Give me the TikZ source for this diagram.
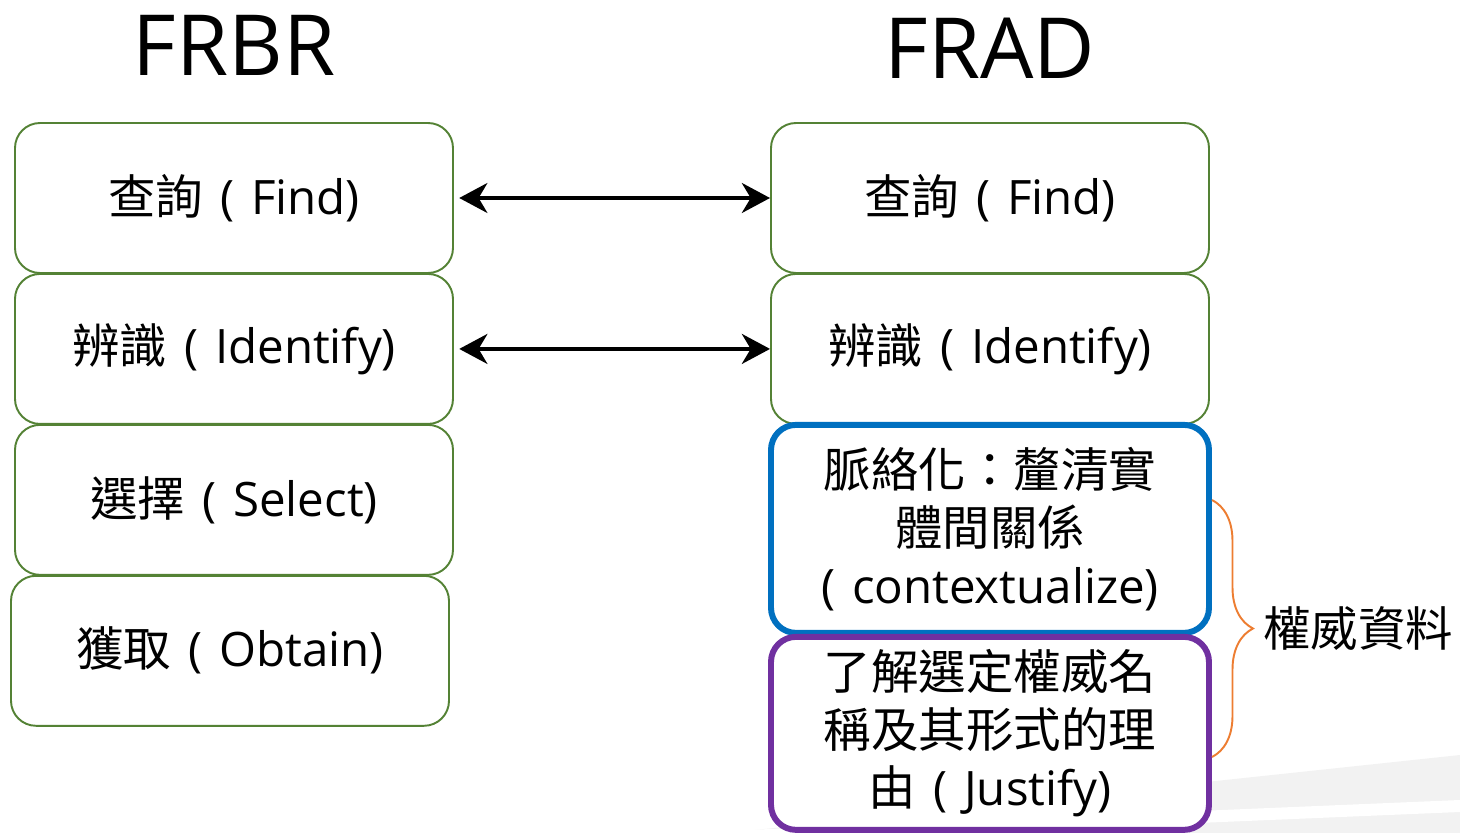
\documentclass[tikz,border=0pt]{standalone}
\usepackage{fontspec}
\setmainfont{Open Sans}
\newfontfamily\cjk{Noto Sans CJK TC}
\usepackage{tikz}
\usetikzlibrary{arrows.meta,positioning,decorations.pathreplacing}
\definecolor{taskgreen}{HTML}{548235}
\definecolor{ctxblue}{HTML}{0070C0}
\definecolor{justpurple}{HTML}{7030A0}
\definecolor{braceorange}{HTML}{ED7D31}
\newcommand\gap{\hspace{0.36em}}

\begin{document}
\begin{tikzpicture}[>={Stealth[length=16pt,width=17pt,inset=5pt]},
        task/.style={draw=taskgreen,line width=1.1pt,rounded corners=0.5cm,fill=white,
            minimum width=8.76cm,minimum height=3cm,inner sep=0pt,align=center,
            font=\fontsize{27}{33}\selectfont},
        title/.style={font=\fontsize{48}{52}\selectfont}]
        \useasboundingbox (0,0) rectangle (29.2,-16.66);
        % grey stripes in the corner
        \fill[black!5] (14.54,-16.66) -- (29.2,-15.1) -- (29.2,-16.66) -- cycle;
        \fill[white] (13.5,-16.66) -- (29.2,-16.0) -- (29.2,-16.24) -- (19.2,-16.66) -- cycle;
        \node[title] (frbr) at (4.68,-0.91) {FRBR};
        \node[title] (frad) at (19.8,-0.96) {FRAD};
        % FRBR
        \node[task] (find1) at (4.68,-3.96) {{\cjk 查詢}\gap(\gap Find)};
        \node[task,below=-0.02cm of find1] (ident1) {{\cjk 辨識}\gap(\gap Identify)};
        \node[task,below=-0.02cm of ident1] (select1) {{\cjk 選擇}\gap(\gap Select)};
        \node[task,below=-0.02cm of select1,xshift=-0.08cm] (obtain1) {{\cjk 獲取}\gap(\gap Obtain)};
        % FRAD
        \node[task] (find2) at (19.8,-3.96) {{\cjk 查詢}\gap(\gap Find)};
        \node[task,below=-0.02cm of find2] (ident2) {{\cjk 辨識}\gap(\gap Identify)};
        \node[task,below=-0.06cm of ident2,draw=ctxblue,line width=3.4pt,minimum height=4.16cm] (context2)
            {{\cjk 脈絡化：釐清實}\\{\cjk 體間關係}\\(\gap contextualize)};
        \node[task,below=-0.04cm of context2,draw=justpurple,line width=3.4pt,minimum height=3.86cm] (justify2)
            {{\cjk 了解選定權威名}\\{\cjk 稱及其形式的理}\\{\cjk 由}\gap(\gap Justify)};
        \path[<->,line width=2.3pt,shorten <=3pt]
                (find1) edge (find2)
                (ident1) edge (ident2);
        % authority data
        \coordinate (bracetop) at (24.24,-10.0);
        \coordinate (bracebot) at (24.24,-15.14);
        \draw[braceorange,line width=1.1pt,decorate,decoration={brace,amplitude=0.82cm}]
                (bracetop) -- (bracebot) coordinate[pos=0.5] (bracemid);
        \node[anchor=west,font=\fontsize{27}{33}\selectfont\cjk] (auth) at ([xshift=0.9cm]bracemid) {權威資料};
\end{tikzpicture}
\end{document}
